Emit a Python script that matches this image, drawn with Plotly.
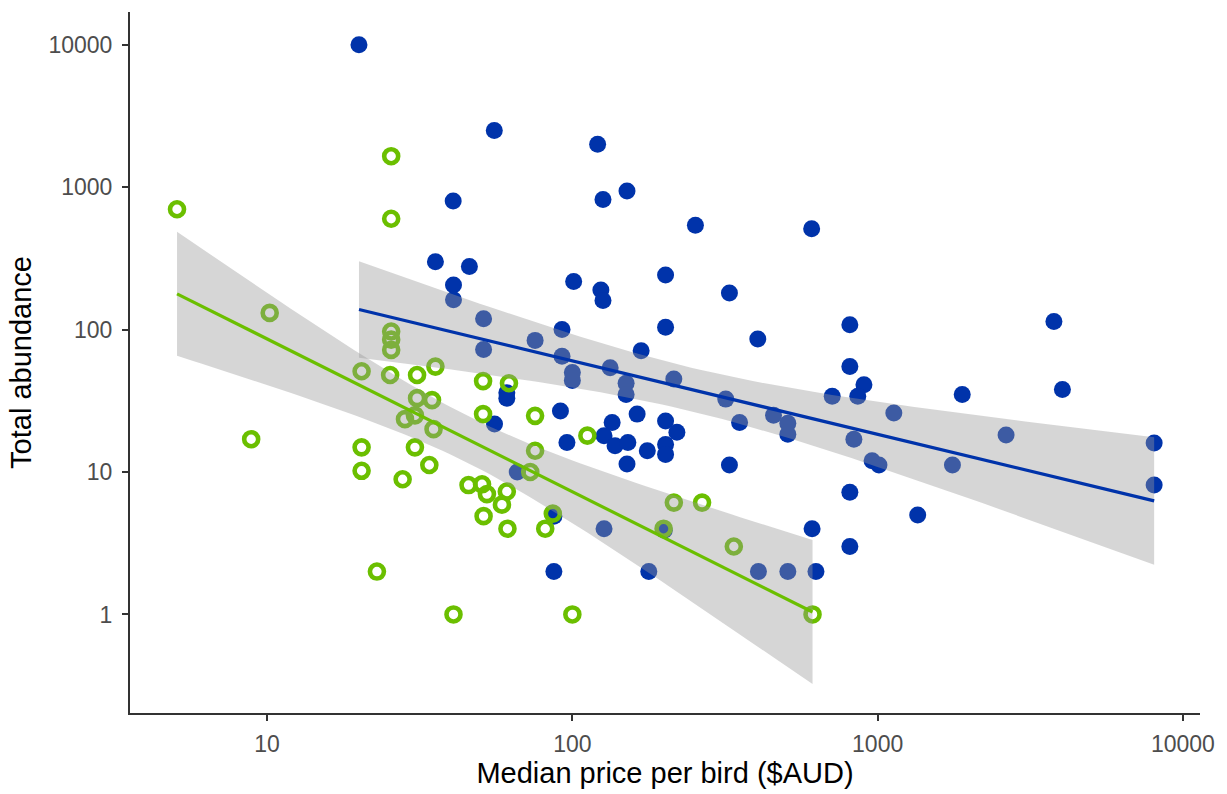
import numpy as np
import plotly.graph_objects as go

# ---- data (Median price per bird, Total abundance) ----
blue_price = [20, 55.5, 121, 151, 126, 40.7, 253, 608, 35.6, 46, 202, 40.8, 101, 124, 126, 327,
              40.8, 3780, 811, 811, 902, 861, 710, 1893, 4030, 1130, 508, 508, 836, 959, 1010,
              1758, 2635, 8050, 8050, 811, 1353, 610, 811, 508, 628, 407, 178, 87, 92.5, 168,
              92.5, 100, 100, 133, 150, 150, 215, 318, 456, 353, 91.4, 163, 202, 135, 127, 220,
              96, 138, 152, 176, 202, 202, 151, 327, 405, 202, 51.2, 51.2, 75.5, 61, 61, 55.6,
              66, 87, 127, 200]
blue_abund = [10000, 2500, 2000, 940, 820, 800, 540, 510, 300, 277, 242, 206, 218, 190, 160, 181,
              162, 114, 108, 55, 41, 34, 34, 35, 38, 26, 22, 18.4, 17, 12, 11.2,
              11.2, 18.2, 16, 8.1, 7.2, 5.0, 4.0, 3.0, 2.0, 2.0, 2.0, 2.0, 2.0, 100, 71,
              65, 50, 44, 54, 42, 35, 45, 32.5, 25, 22.3, 26.8, 25.5, 22.8, 22.3, 18, 19,
              16.1, 15.3, 16.1, 14.1, 15.6, 13.3, 11.4, 11.2, 86, 104, 119, 72.4, 84, 36, 33, 21.7,
              10, 4.9, 4.0, 3.9]

green_price = [5.07, 25.5, 25.5, 10.2, 8.87, 20.4, 20.4, 20.4, 22.9, 27.8, 30.5, 34, 40.8, 100, 612,
               25.5, 25.5, 25.5, 25.3, 31, 35.6, 31, 34.7, 28.3, 30.5, 35.1, 51, 62, 51, 75.5,
               112, 75.5, 72.8, 45.7, 50.6, 52.5, 61, 58.8, 51.2, 61.3, 81.5, 86.3, 215, 266,
               199, 338]
green_abund = [700, 1650, 600, 131, 17, 51, 14.9, 10.2, 2.0, 8.9, 14.9, 11.2, 1, 1, 1,
               97, 85, 72, 48, 48, 55, 33, 32, 23.5, 25, 20, 43.5, 42, 25.5, 24.8,
               18, 14.1, 10, 8.1, 8.2, 7.0, 7.3, 5.9, 4.9, 4.0, 4.0, 5.1, 6.1, 6.1,
               4.0, 3.0]

x_ticks = [10, 100, 1000, 10000]
y_ticks = [1, 10, 100, 1000, 10000]

BLUE = "#0033AA"
GREEN = "#6BBF00"
RIBBON = "rgba(153,153,153,0.4)"
FONT = "Liberation Sans, Arial, sans-serif"


def t_quantile(df, z=1.959964):
    # Cornish-Fisher expansion of Student t 97.5% quantile
    return (z + (z**3 + z) / (4 * df) + (5 * z**5 + 16 * z**3 + 3 * z) / (96 * df**2)
            + (3 * z**7 + 19 * z**5 + 17 * z**3 - 15 * z) / (384 * df**3))


def lm_fit(xs, ys, npts=80):
    lx = np.log10(np.asarray(xs, float))
    ly = np.log10(np.asarray(ys, float))
    n = len(lx)
    b1, b0 = np.polyfit(lx, ly, 1)
    resid = ly - (b0 + b1 * lx)
    s = np.sqrt(np.sum(resid**2) / (n - 2))
    sxx = np.sum((lx - lx.mean())**2)
    gx = np.linspace(lx.min(), lx.max(), npts)
    gy = b0 + b1 * gx
    se = s * np.sqrt(1 / n + (gx - lx.mean())**2 / sxx)
    t = t_quantile(n - 2)
    return 10**gx, 10**gy, 10**(gy - t * se), 10**(gy + t * se)


fig = go.Figure()

fig.add_trace(go.Scatter(x=blue_price, y=blue_abund, mode="markers",
                         marker=dict(color=BLUE, size=17, line=dict(width=0)),
                         showlegend=False))
fig.add_trace(go.Scatter(x=green_price, y=green_abund, mode="markers",
                         marker=dict(symbol="circle-open", color=GREEN, size=14,
                                     line=dict(width=4.6, color=GREEN)),
                         showlegend=False))

fits = [(lm_fit(blue_price, blue_abund), BLUE), (lm_fit(green_price, green_abund), GREEN)]
for (gx, gy, lo, hi), col in fits:
    fig.add_trace(go.Scatter(x=np.concatenate([gx, gx[::-1]]),
                             y=np.concatenate([hi, lo[::-1]]),
                             fill="toself", fillcolor=RIBBON, mode="lines",
                             line=dict(width=0), hoverinfo="skip", showlegend=False))
for (gx, gy, lo, hi), col in fits:
    fig.add_trace(go.Scatter(x=gx, y=gy, mode="lines", line=dict(color=col, width=3.2),
                             showlegend=False))

axis_common = dict(type="log", showgrid=False, zeroline=False, showline=True,
                   linecolor="#333333", linewidth=2, ticks="outside", ticklen=6,
                   tickwidth=2, tickcolor="#333333",
                   tickfont=dict(family=FONT, size=23, color="#4D4D4D"))

fig.update_layout(
    width=1227, height=794,
    margin=dict(l=130, r=27, t=12, b=79),
    paper_bgcolor="white", plot_bgcolor="white",
    xaxis=dict(axis_common, range=[0.551, 4.056], tickvals=x_ticks,
               ticktext=[str(v) for v in x_ticks], ticklabelstandoff=3,
               title=dict(text="Median price per bird ($AUD)", standoff=5,
                          font=dict(family=FONT, size=29, color="black"))),
    yaxis=dict(axis_common, range=[-0.692, 4.23], tickvals=y_ticks,
               ticktext=[str(v) for v in y_ticks], ticklabelstandoff=5,
               title=dict(text="Total abundance", standoff=8,
                          font=dict(family=FONT, size=29, color="black"))),
    showlegend=False,
)

fig.write_html("out.html")
